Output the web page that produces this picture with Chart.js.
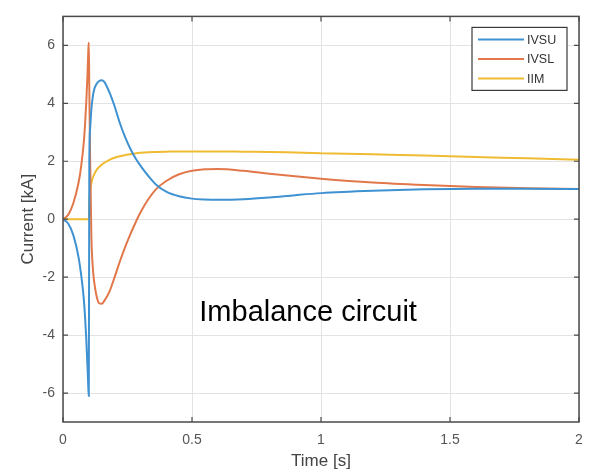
<!DOCTYPE html>
<html>
<head>
<meta charset="utf-8">
<script src="https://cdn.jsdelivr.net/npm/chart.js@4.4.0/dist/chart.umd.min.js"></script>
<style>
  html, body { margin: 0; padding: 0; background: #fff; }
</style>
</head>
<body>
<canvas id="currentChart" width="600" height="475"></canvas>
<script>
// values (time in s, current in kA)
const timeValues = [0, 0.02, 0.04, 0.06, 0.07, 0.08, 0.085, 0.09, 0.095, 0.098, 0.1,
  0.102, 0.105, 0.11, 0.115, 0.12, 0.13, 0.14, 0.15, 0.16, 0.18,
  0.2, 0.22, 0.24, 0.26, 0.28, 0.3, 0.33, 0.36, 0.4, 0.45,
  0.5, 0.55, 0.6, 0.7, 0.8, 0.9, 1.0, 1.2, 1.4, 1.6,
  1.8, 2.0];
const ivsuValues = [0, -0.15, -0.55, -1.3, -1.9, -2.7, -3.3, -4.1, -5.1, -5.8, -6.1,
  2.0, 3.1, 3.8, 4.2, 4.45, 4.67, 4.77, 4.8, 4.74, 4.38,
  3.9, 3.33, 2.85, 2.45, 2.12, 1.85, 1.5, 1.2, 0.95, 0.79,
  0.71, 0.68, 0.67, 0.69, 0.75, 0.83, 0.9, 0.98, 1.03, 1.05,
  1.05, 1.04];
const ivslValues = [0, 0.15, 0.55, 1.25, 1.8, 2.6, 3.2, 4.0, 5.0, 5.8, 6.1,
  4.5, 2.2, -0.6, -1.6, -2.1, -2.65, -2.9, -2.92, -2.82, -2.5,
  -2.0, -1.47, -0.98, -0.54, -0.14, 0.23, 0.68, 1.03, 1.32, 1.55,
  1.67, 1.72, 1.73, 1.67, 1.57, 1.48, 1.4, 1.27, 1.18, 1.11,
  1.07, 1.04];
const iimValues = [0, 0, 0, 0, 0, 0, 0, 0, 0, 0, 0,
  0.6, 0.95, 1.25, 1.42, 1.53, 1.7, 1.8, 1.88, 1.95, 2.05,
  2.12, 2.17, 2.21, 2.24, 2.27, 2.29, 2.31, 2.32, 2.33, 2.34,
  2.34, 2.34, 2.34, 2.33, 2.32, 2.3, 2.28, 2.24, 2.2, 2.15,
  2.1, 2.05];

const seriesNames = ["IVSU", "IVSL", "IIM"];
const seriesColors = ["#3f92d2", "#e2784a", "#efbb33"];
const xTicks = [0, 0.5, 1, 1.5, 2];
const yTicks = [-6, -4, -2, 0, 2, 4, 6];
const noteText = "Imbalance circuit";

const fontFamily = "'Liberation Sans', Arial, Helvetica, sans-serif";

function toPoints(values) {
  return values.map(function (v, i) {
    return { x: timeValues[i], y: v };
  });
}

const seriesValues = [ivsuValues, ivslValues, iimValues];

const datasets = seriesNames.map(function (name, i) {
  return {
    label: name,
    data: toPoints(seriesValues[i]),
    borderColor: seriesColors[i],
    backgroundColor: seriesColors[i],
    borderWidth: 2,
    pointRadius: 0,
    cubicInterpolationMode: "monotone",
    fill: false,
  };
});

// box, inward ticks, legend and text note
const matlabAxes = {
  id: "matlabAxes",
  afterDatasetsDraw(chart) {
    const ctx = chart.ctx;
    const area = chart.chartArea;
    const xScale = chart.scales.x;
    const yScale = chart.scales.y;

    ctx.save();
    ctx.strokeStyle = "#4a4a4a";
    ctx.lineWidth = 1.5;
    ctx.strokeRect(area.left, area.top, area.right - area.left, area.bottom - area.top);

    ctx.lineWidth = 1.2;
    ctx.beginPath();
    xTicks.forEach(function (v) {
      let px = xScale.getPixelForValue(v);
      ctx.moveTo(px, area.bottom);
      ctx.lineTo(px, area.bottom - 5);
      ctx.moveTo(px, area.top);
      ctx.lineTo(px, area.top + 5);
    });
    yTicks.forEach(function (v) {
      let py = yScale.getPixelForValue(v);
      ctx.moveTo(area.left, py);
      ctx.lineTo(area.left + 5, py);
      ctx.moveTo(area.right, py);
      ctx.lineTo(area.right - 5, py);
    });
    ctx.stroke();

    // legend
    let boxRight = area.right - 12;
    let boxTop = area.top + 11;
    let boxW = 95;
    let boxH = 63;
    ctx.fillStyle = "#fff";
    ctx.fillRect(boxRight - boxW, boxTop, boxW, boxH);
    ctx.strokeStyle = "#3a3a3a";
    ctx.lineWidth = 1.2;
    ctx.strokeRect(boxRight - boxW, boxTop, boxW, boxH);

    ctx.font = "12.5px " + fontFamily;
    ctx.textBaseline = "middle";
    ctx.textAlign = "left";
    for (i = 0; i < seriesNames.length; i++) {
      let y = boxTop + 12 + i * 19.5;
      ctx.strokeStyle = seriesColors[i];
      ctx.lineWidth = 2;
      ctx.beginPath();
      ctx.moveTo(boxRight - boxW + 6, y);
      ctx.lineTo(boxRight - boxW + 52, y);
      ctx.stroke();
      ctx.fillStyle = "#333";
      ctx.fillText(seriesNames[i], boxRight - boxW + 55, y + 1);
    }

    // note
    ctx.fillStyle = "#000";
    ctx.font = "29px " + fontFamily;
    ctx.textAlign = "center";
    ctx.textBaseline = "alphabetic";
    ctx.fillText(noteText, xScale.getPixelForValue(0.95), yScale.getPixelForValue(-3.5));
    ctx.restore();
  },
};

const currentChart = new Chart(document.getElementById("currentChart"), {
  type: "line",
  data: { datasets: datasets },
  options: {
    responsive: false,
    animation: false,
    layout: { padding: { left: 0, top: 14, right: 21, bottom: 0 } },
    plugins: {
      legend: { display: false },
      tooltip: { enabled: false },
    },
    scales: {
      x: {
        type: "linear",
        min: 0,
        max: 2,
        afterBuildTicks: function (scale) {
          scale.ticks = xTicks.map(function (v) { return { value: v }; });
        },
        afterFit: function (scale) {
          scale.height = 53;
        },
        grid: { color: "#e3e3e3", lineWidth: 1, drawTicks: false },
        border: { display: false },
        ticks: {
          padding: 10,
          color: "#555",
          font: { family: fontFamily, size: 14 },
          maxRotation: 0,
          callback: function (value) { return String(value); },
        },
        title: {
          display: true,
          text: "Time [s]",
          color: "#444",
          font: { family: fontFamily, size: 17 },
          padding: { top: 0, bottom: 3 },
        },
      },
      y: {
        type: "linear",
        min: -7,
        max: 7,
        afterBuildTicks: function (scale) {
          scale.ticks = yTicks.map(function (v) { return { value: v }; });
        },
        afterFit: function (scale) {
          scale.width = 63;
        },
        grid: { color: "#e3e3e3", lineWidth: 1, drawTicks: false },
        border: { display: false },
        ticks: {
          padding: 8,
          color: "#555",
          font: { family: fontFamily, size: 14 },
          callback: function (value) { return String(value); },
        },
        title: {
          display: true,
          text: "Current [kA]",
          color: "#444",
          font: { family: fontFamily, size: 17 },
          padding: { top: 18, bottom: 0 },
        },
      },
    },
  },
  plugins: [matlabAxes],
});
</script>
</body>
</html>
